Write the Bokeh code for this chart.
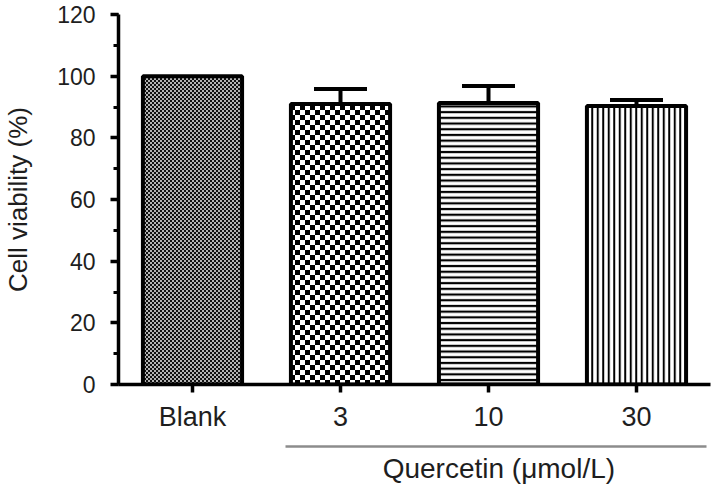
import base64
from bokeh.plotting import figure
from bokeh.models import (ColumnDataSource, Whisker, TeeHead, FixedTicker, Range1d,
                          FactorRange, LinearAxis, ImageURLTexture)
from bokeh.embed import file_html
from bokeh.resources import INLINE

# ---- data ----
categories = ["Blank", "3", "10", "30"]
viability = [100.0, 91.0, 91.3, 90.3]
sd_upper = [100.0, 95.8, 96.8, 92.3]
group_label = "Quercetin (μmol/L)"
group_members = ["3", "10", "30"]
y_ticks = [0, 20, 40, 60, 80, 100, 120]

FONT = "Liberation Sans"
TXT = "#1e1e1e"


def checker_url(cell, dark, light):
    t = 2 * cell
    svg = (f'<svg xmlns="http://www.w3.org/2000/svg" width="{t}" height="{t}" shape-rendering="crispEdges">'
           f'<rect width="{t}" height="{t}" fill="{dark}"/>'
           f'<rect width="{cell}" height="{cell}" fill="{light}"/>'
           f'<rect x="{cell}" y="{cell}" width="{cell}" height="{cell}" fill="{light}"/></svg>')
    return "data:image/svg+xml;base64," + base64.b64encode(svg.encode()).decode()


textures = {
    "fine_checker": ImageURLTexture(url=checker_url(2, "#111111", "#b4b4b4"), repetition="repeat"),
    "coarse_checker": ImageURLTexture(url=checker_url(5, "#000000", "#ffffff"), repetition="repeat"),
}

p = figure(x_range=FactorRange(*categories, range_padding=0), y_range=Range1d(0, 120),
           width=712, height=486, output_backend="svg", toolbar_location=None,
           min_border_left=115, min_border_right=2, min_border_top=14, min_border_bottom=100)
p.outline_line_color = None
p.grid.grid_line_color = None

patterns = ["fine_checker", "coarse_checker", "horizontal_line", "vertical_line"]
styles = [
    dict(fill_color="#5a5a5a"),
    dict(fill_color="#808080"),
    dict(fill_color="white", hatch_color="black", hatch_scale=5.7, hatch_weight=2.2),
    dict(fill_color="white", hatch_color="black", hatch_scale=5.5, hatch_weight=2),
]
for cat, val, pat, st in zip(categories, viability, patterns, styles):
    src = ColumnDataSource(dict(x=[cat], top=[val], pat=[pat]))
    p.vbar(x="x", top="top", width=0.67, source=src, line_color="black", line_width=4,
           hatch_pattern="pat", hatch_extra=textures, **st)

# error bars (upper only)
err_cats = [c for c, v, u in zip(categories, viability, sd_upper) if u > v]
err_lo = [v for v, u in zip(viability, sd_upper) if u > v]
err_hi = [u for v, u in zip(viability, sd_upper) if u > v]
esrc = ColumnDataSource(dict(base=err_cats, lower=err_lo, upper=err_hi))
w = Whisker(source=esrc, base="base", lower="lower", upper="upper", dimension="height",
            line_width=4, line_color="black", lower_head=None,
            upper_head=TeeHead(size=53, line_width=4, line_color="black"))
w.level = "glyph"
p.add_layout(w)

# axes
p.yaxis.ticker = FixedTicker(ticks=y_ticks, minor_ticks=list(range(0, 121, 10)))
p.yaxis.axis_label = "Cell viability (%)"
p.yaxis.axis_label_text_font = FONT
p.yaxis.axis_label_text_font_style = "normal"
p.yaxis.axis_label_text_font_size = "26px"
p.yaxis.axis_label_text_color = TXT
p.yaxis.axis_label_standoff = 21
p.yaxis.major_label_text_font_size = "23px"
p.yaxis.major_label_standoff = 15
p.yaxis.minor_tick_out = 5
p.yaxis.minor_tick_in = 0
p.yaxis.minor_tick_line_width = 3

p.xaxis.major_label_text_font_size = "27px"
p.xaxis.major_label_standoff = 9
# small blank label below the category names: spacing before the group bracket
p.xaxis.axis_label = " "
p.xaxis.axis_label_text_font_size = "6px"
p.xaxis.axis_label_standoff = 3

for ax in (p.xaxis, p.yaxis):
    ax.axis_line_width = 3.5
    ax.axis_line_color = "black"
    ax.major_tick_line_width = 3.5
    ax.major_tick_out = 8
    ax.major_tick_in = 0
    ax.major_label_text_font = FONT
    ax.major_label_text_color = TXT

# group bracket: a second, bounded axis under the dose categories
n = len(categories)
p.extra_x_ranges = {"syn": FactorRange(*categories, range_padding=0)}
first = categories.index(group_members[0])
last = categories.index(group_members[-1])
b0 = first + 0.5 - 0.37
b1 = last + 0.97
mid = (first + last + 1) / 2 + 0.07
gax = LinearAxis(x_range_name="syn", bounds=(b0, b1), ticker=FixedTicker(ticks=[mid]),
                 major_label_overrides={mid: group_label})
gax.axis_line_color = "#8c8c8c"
gax.axis_line_width = 2.5
gax.major_tick_line_color = None
gax.minor_tick_line_color = None
gax.major_tick_out = 0
gax.major_tick_in = 0
gax.major_label_standoff = 6
gax.major_label_text_font = FONT
gax.major_label_text_font_size = "28px"
gax.major_label_text_color = TXT
p.add_layout(gax, "below")

open("out.html", "w").write(file_html(p, INLINE))
